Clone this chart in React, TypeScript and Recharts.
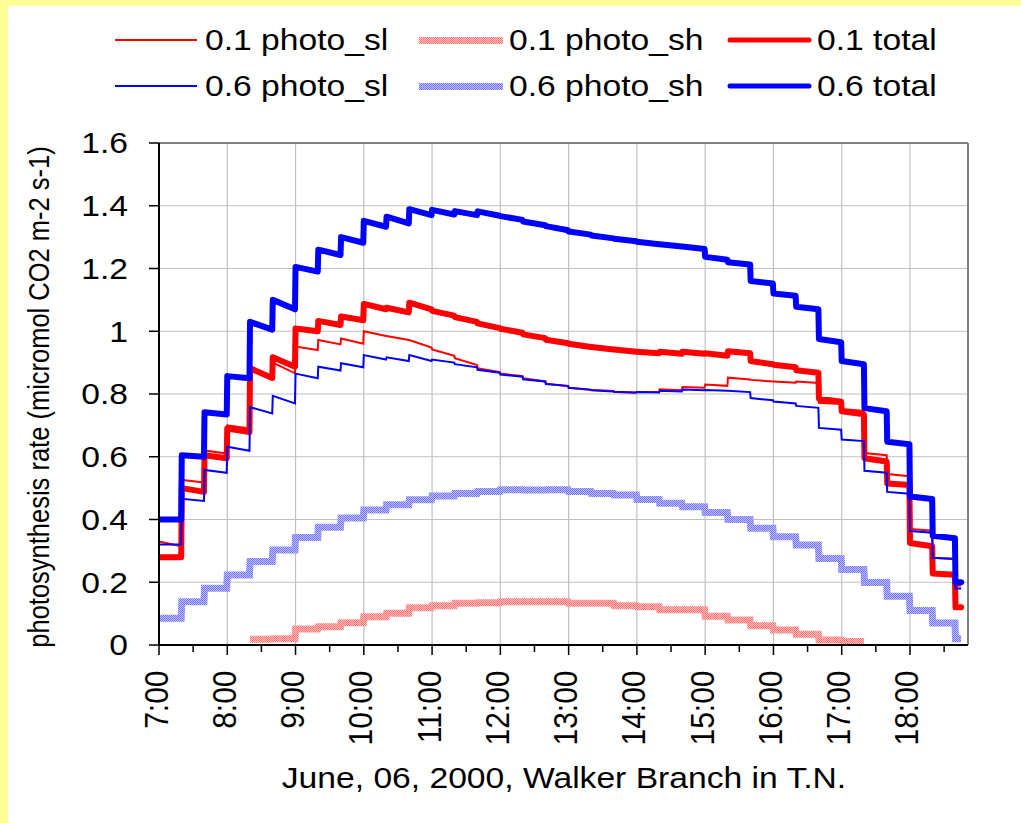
import { LineChart, Line, XAxis, YAxis, CartesianGrid, Legend, ReferenceLine } from "recharts";

// 20-minute model slots, June 06 2000, Walker Branch
const SLOT_TIMES = [
    "7:00", "7:20", "7:40", "8:00", "8:20", "8:40", "9:00", "9:20", "9:40",
    "10:00", "10:20", "10:40", "11:00", "11:20", "11:40", "12:00", "12:20", "12:40",
    "13:00", "13:20", "13:40", "14:00", "14:20", "14:40", "15:00", "15:20", "15:40",
    "16:00", "16:20", "16:40", "17:00", "17:20", "17:40", "18:00", "18:20", "18:40",
];
const END_TIME = "18:45";

// [value at start of slot, value at end of slot]
const sl01 = [
    [0.33, 0.315], [0.526, 0.518], [0.62, 0.61], [0.7, 0.69], [0.875, 0.848], [0.9, 0.866],
    [0.951, 0.94], [0.972, 0.958], [0.977, 0.96], [1.0, 0.985], [0.985, 0.972], [0.972, 0.948],
    [0.942, 0.922], [0.914, 0.892], [0.882, 0.87], [0.865, 0.857], [0.85, 0.84], [0.833, 0.825],
    [0.82, 0.813], [0.813, 0.81], [0.806, 0.804], [0.806, 0.806], [0.815, 0.812], [0.822, 0.82],
    [0.83, 0.826], [0.852, 0.846], [0.845, 0.84], [0.84, 0.836], [0.84, 0.835], [0.772, 0.768],
    [0.752, 0.746], [0.612, 0.605], [0.545, 0.538], [0.37, 0.364], [0.278, 0.274], [0.19, 0.19],
];
const tot01 = [
    [0.28, 0.28], [0.5, 0.488], [0.605, 0.595], [0.69, 0.679], [0.882, 0.851], [0.917, 0.887],
    [1.009, 1.0], [1.033, 1.02], [1.047, 1.035], [1.087, 1.07], [1.075, 1.06], [1.091, 1.07],
    [1.065, 1.05], [1.045, 1.03], [1.025, 1.01], [1.008, 0.995], [0.99, 0.978], [0.973, 0.962],
    [0.96, 0.95], [0.95, 0.942], [0.942, 0.935], [0.935, 0.93], [0.935, 0.928], [0.935, 0.928],
    [0.93, 0.922], [0.936, 0.93], [0.905, 0.895], [0.893, 0.885], [0.876, 0.868], [0.785, 0.775],
    [0.745, 0.735], [0.595, 0.585], [0.515, 0.51], [0.325, 0.315], [0.228, 0.224], [0.12, 0.12],
];
const sl06 = [
    [0.32, 0.32], [0.466, 0.459], [0.558, 0.549], [0.632, 0.619], [0.758, 0.738], [0.794, 0.77],
    [0.865, 0.85], [0.887, 0.875], [0.898, 0.885], [0.924, 0.91], [0.917, 0.905], [0.924, 0.905],
    [0.91, 0.9], [0.895, 0.885], [0.877, 0.868], [0.862, 0.855], [0.847, 0.84], [0.832, 0.826],
    [0.82, 0.814], [0.812, 0.808], [0.807, 0.805], [0.806, 0.805], [0.81, 0.808], [0.814, 0.812],
    [0.813, 0.81], [0.81, 0.806], [0.787, 0.78], [0.776, 0.77], [0.762, 0.756], [0.692, 0.686],
    [0.655, 0.65], [0.555, 0.549], [0.488, 0.482], [0.363, 0.358], [0.278, 0.274], [0.18, 0.18],
];
const tot06 = [
    [0.4, 0.4], [0.605, 0.6], [0.742, 0.735], [0.857, 0.85], [1.03, 1.005], [1.1, 1.07],
    [1.205, 1.19], [1.26, 1.243], [1.3, 1.282], [1.352, 1.333], [1.365, 1.344], [1.389, 1.37],
    [1.387, 1.372], [1.383, 1.37], [1.382, 1.368], [1.367, 1.355], [1.35, 1.338], [1.335, 1.322],
    [1.318, 1.308], [1.305, 1.296], [1.295, 1.287], [1.285, 1.277], [1.277, 1.27], [1.27, 1.262],
    [1.237, 1.228], [1.22, 1.213], [1.16, 1.152], [1.12, 1.113], [1.078, 1.07], [0.975, 0.965],
    [0.905, 0.895], [0.755, 0.745], [0.648, 0.64], [0.473, 0.465], [0.348, 0.34], [0.2, 0.2],
];
// shaded-leaf lines are flat within a slot
const sh01 = [
    null, null, null, null, 0.018, 0.02, 0.051, 0.058, 0.071,
    0.09, 0.101, 0.119, 0.125, 0.133, 0.135, 0.138, 0.138, 0.138,
    0.133, 0.133, 0.125, 0.122, 0.112, 0.112, 0.092, 0.08, 0.061,
    0.048, 0.034, 0.016, 0.011, null, null, null, null, null,
];
const sh06 = [
    0.085, 0.138, 0.181, 0.223, 0.266, 0.303, 0.343, 0.375, 0.405,
    0.43, 0.447, 0.463, 0.475, 0.483, 0.489, 0.495, 0.494, 0.495,
    0.489, 0.483, 0.478, 0.464, 0.452, 0.441, 0.422, 0.4, 0.372,
    0.345, 0.319, 0.276, 0.241, 0.199, 0.155, 0.11, 0.07, 0.02,
];

const X_TICKS = [
    "7:00", "7:30", "8:00", "8:30", "9:00", "9:30", "10:00", "10:30", "11:00", "11:30",
    "12:00", "12:30", "13:00", "13:30", "14:00", "14:30", "15:00", "15:30", "16:00",
    "16:30", "17:00", "17:30", "18:00", "18:30",
];
const X_END = "18:51";
const Y_TICKS = [0, 0.2, 0.4, 0.6, 0.8, 1, 1.2, 1.4, 1.6];

const FONT = "'Liberation Sans', Arial, Helvetica, sans-serif";

const toHours = (s: string) => {
    const [h, m] = s.split(":").map(Number);
    return h + m / 60;
};

const PAIRED: Record<string, number[][]> = { sl01, tot01, sl06, tot06 };
const FLAT: Record<string, (number | null)[]> = { sh01, sh06 };

// two rows per slot: its start value and the value just before the next step
const data: any[] = [];
SLOT_TIMES.forEach((t, i) => {
    const t0 = toHours(t);
    const t1 = i + 1 < SLOT_TIMES.length ? toHours(SLOT_TIMES[i + 1]) - 0.008 : toHours(END_TIME);
    const a: any = { t: t0 };
    const b: any = { t: t1 };
    Object.entries(PAIRED).forEach(([k, arr]) => { a[k] = arr[i][0]; b[k] = arr[i][1]; });
    Object.entries(FLAT).forEach(([k, arr]) => { a[k] = arr[i]; b[k] = arr[i]; });
    data.push(a, b);
});

const hourTicks = X_TICKS.map(toHours);
const hourLines = hourTicks.filter((h) => Number.isInteger(h));

const LEGEND = [
    { key: "sl01", label: "0.1 photo_sl", kind: "thin", color: "#FF0000", col: 0, row: 0 },
    { key: "sh01", label: "0.1 photo_sh", kind: "tex", color: "url(#texRed)", col: 1, row: 0 },
    { key: "tot01", label: "0.1 total", kind: "thick", color: "#FF0000", col: 2, row: 0 },
    { key: "sl06", label: "0.6 photo_sl", kind: "thin", color: "#0000FF", col: 0, row: 1 },
    { key: "sh06", label: "0.6 photo_sh", kind: "tex", color: "url(#texBlue)", col: 1, row: 1 },
    { key: "tot06", label: "0.6 total", kind: "thick", color: "#0000FF", col: 2, row: 1 },
];
const LEG_COL_X = [107, 411, 719];
const LEG_ROW_Y = [34, 80];

function renderLegend() {
    return (
        <svg width={1013} height={110}>
            {LEGEND.map((it) => {
                const x = LEG_COL_X[it.col];
                const y = LEG_ROW_Y[it.row];
                let sample;
                if (it.kind === "tex") {
                    sample = <rect x={x} y={y - 3} width={84} height={7} fill={it.color} />;
                } else {
                    sample = (
                        <line x1={x + (it.kind === "thick" ? 3 : 0)} x2={x + 82} y1={y} y2={y}
                            stroke={it.color} strokeWidth={it.kind === "thick" ? 5 : 2} strokeLinecap={it.kind === "thick" ? "round" : "butt"} />
                    );
                }
                return (
                    <g key={it.key}>
                        {sample}
                        <text transform={`translate(${x + 90},${y + 10}) scale(1.16,1)`} fontSize={29} fontFamily={FONT} fill="#000">
                            {it.label}
                        </text>
                    </g>
                );
            })}
        </svg>
    );
}

const XTick = (props: any) => {
    const { x, y, payload } = props;
    const v = payload.value as number;
    const isHour = Math.abs(v - Math.round(v)) < 1e-6;
    return (
        <g>
            <line x1={x} x2={x} y1={y} y2={y + (isHour ? 10 : 7)} stroke="#000" strokeWidth={1.5} />
            {isHour && (
                <text transform={`translate(${x + 8.5},${y + 25.5}) scale(1.13,1) rotate(-90)`}
                    textAnchor="end" fontSize={30} fontFamily={FONT} fill="#000">
                    {`${Math.round(v)}:00`}
                </text>
            )}
        </g>
    );
};

const YTick = (props: any) => {
    const { x, y, payload } = props;
    const v = payload.value as number;
    const label = v === 0 ? "0" : String(parseFloat(v.toFixed(1)));
    return (
        <g>
            <line x1={x - 10} x2={x} y1={y} y2={y} stroke="#000" strokeWidth={1.5} />
            <text transform={`translate(${x - 31},${y}) scale(1.16,1)`} textAnchor="end" dy="0.355em"
                fontSize={29} fontFamily={FONT} fill="#000">
                {label}
            </text>
        </g>
    );
};

export default function App() {
    return (
        <div style={{ position: "absolute", left: 0, top: 0, width: 1021, height: 823, background: "#FFFF99", overflow: "hidden" }}>
            <svg width={0} height={0} style={{ position: "absolute" }}>
                <defs>
                    <pattern id="texRed" width={2} height={2} patternUnits="userSpaceOnUse">
                        <rect width={2} height={2} fill="#FFC4C4" />
                        <rect x={0} y={0} width={1} height={1} fill="#FF7070" />
                        <rect x={1} y={1} width={1} height={1} fill="#FF7070" />
                    </pattern>
                    <pattern id="texBlue" width={2} height={2} patternUnits="userSpaceOnUse">
                        <rect width={2} height={2} fill="#C4C4FF" />
                        <rect x={0} y={0} width={1} height={1} fill="#7070FF" />
                        <rect x={1} y={1} width={1} height={1} fill="#7070FF" />
                    </pattern>
                </defs>
            </svg>
            <div style={{ position: "absolute", left: 8, top: 6, width: 1013, height: 817, background: "#FFFFFF" }}>
                <LineChart width={1013} height={817} data={data} margin={{ top: 137, right: 53, left: 51, bottom: 58 }}>
                    <CartesianGrid stroke="#C0C0C0" strokeWidth={1.2} horizontalValues={Y_TICKS} verticalValues={hourLines} />
                    <XAxis
                        dataKey="t"
                        type="number"
                        domain={[toHours(X_TICKS[0]), toHours(X_END)]}
                        ticks={hourTicks}
                        interval={0}
                        allowDataOverflow
                        height={120}
                        tickSize={0}
                        tickMargin={0}
                        tickLine={false}
                        axisLine={{ stroke: "#000", strokeWidth: 2 }}
                        tick={<XTick />}
                    />
                    <YAxis
                        domain={[0, 1.6]}
                        ticks={Y_TICKS}
                        interval={0}
                        width={100}
                        tickSize={0}
                        tickMargin={0}
                        tickLine={false}
                        axisLine={{ stroke: "#000", strokeWidth: 2 }}
                        tick={<YTick />}
                    />
                    <ReferenceLine y={1.6} stroke="#808080" strokeWidth={2} />
                    <ReferenceLine x={toHours(X_END)} stroke="#808080" strokeWidth={2} />
                    <Legend
                        layout="horizontal"
                        verticalAlign="middle"
                        align="center"
                        content={renderLegend}
                        wrapperStyle={{ left: 0, top: 0, width: 1013, height: 110 }}
                    />
                    <Line dataKey="sl01" type="linear" stroke="#FF0000" strokeWidth={2} dot={false} isAnimationActive={false} />
                    <Line dataKey="sh01" type="linear" stroke="url(#texRed)" strokeWidth={7} dot={false} isAnimationActive={false} />
                    <Line dataKey="tot01" type="linear" stroke="#FF0000" strokeWidth={6} strokeLinejoin="round" strokeLinecap="round" dot={false} isAnimationActive={false} />
                    <Line dataKey="sl06" type="linear" stroke="#0000FF" strokeWidth={2} dot={false} isAnimationActive={false} />
                    <Line dataKey="sh06" type="linear" stroke="url(#texBlue)" strokeWidth={7} dot={false} isAnimationActive={false} />
                    <Line dataKey="tot06" type="linear" stroke="#0000FF" strokeWidth={6} strokeLinejoin="round" strokeLinecap="round" dot={false} isAnimationActive={false} />
                </LineChart>
                <svg width={1013} height={817} style={{ position: "absolute", left: 0, top: 0, pointerEvents: "none" }}>
                    <text transform="translate(41,391) scale(1.14,1) rotate(-90)" textAnchor="middle" fontSize={25.5} fontFamily={FONT} fill="#000">
                        photosynthesis rate (micromol CO2 m-2 s-1)
                    </text>
                    <text transform="translate(556,782) scale(1.16,1)" textAnchor="middle" fontSize={29} fontFamily={FONT} fill="#000">
                        June, 06, 2000, Walker Branch in T.N.
                    </text>
                </svg>
            </div>
        </div>
    );
}
